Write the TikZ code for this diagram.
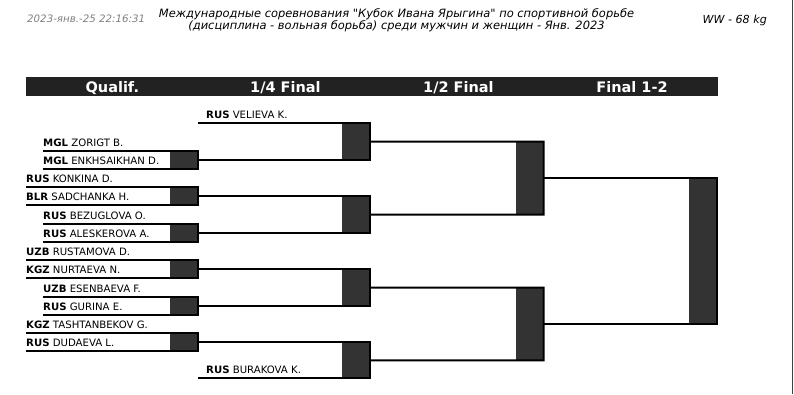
\documentclass[tikz,border=0pt]{standalone}
\usepackage{fontspec}
\setmainfont{DejaVu Sans}
\newfontfamily\ttlfont{DejaVu Sans}[Ligatures=TeXOff]
\usetikzlibrary{fit}
\definecolor{boxgray}{HTML}{333333}
\definecolor{barblack}{HTML}{222222}
\definecolor{dategray}{HTML}{808080}
\definecolor{edgegray}{HTML}{404040}
\begin{document}
\begin{tikzpicture}[x=1pt,y=-1pt,
  ln/.style={line width=2pt, line join=miter},
  mbox/.style={rectangle, fill=boxgray, draw=none, inner sep=0pt, outer sep=0pt},
  nm/.style={anchor=base west, inner sep=0pt, font=\fontsize{10.15}{12}\selectfont},
  hd/.style={anchor=base, inner sep=0pt, text=white, font=\fontsize{14.5}{17}\selectfont\bfseries},
  ttl/.style={anchor=base, inner sep=0pt, font=\ttlfont\fontsize{11.45}{13}\selectfont\itshape}]
\useasboundingbox (0,0) rectangle (794,394);
% page edge
\draw[edgegray, line width=1pt] (792.5,0) -- (792.5,394);
% header texts
\node[anchor=base west, inner sep=0pt, text=dategray, font=\fontsize{10.25}{12}\selectfont\itshape] (date) at (27,22.5) {2023-янв.-25 22:16:31};
\node[ttl] (t1) at (396.5,17.3) {Международные соревнования "Кубок Ивана Ярыгина" по спортивной борьбе};
\node[ttl] (t2) at (396.5,29.5) {(дисциплина - вольная борьба) среди мужчин и женщин - Янв. 2023};
\node[anchor=base east, inner sep=0pt, font=\fontsize{11.1}{13}\selectfont\itshape] (wc) at (767,23.5) {WW - 68 kg};
% column bar
\node[rectangle, fill=barblack, inner sep=0pt, outer sep=0pt, fit={(26,77)(718,96)}] (bar) {};
\node[hd] (h1) at (112.3,92) {Qualif.};
\node[hd] (h2) at (285.4,92) {1/4 Final};
\node[hd] (h3) at (458.4,92) {1/2 Final};
\node[hd] (h4) at (632,92) {Final 1-2};
% qualification boxes
\node[mbox, fit={(170,150.7)(198,168.95)}] (q1) {};
\node[mbox, fit={(170,187.2)(198,205.45)}] (q2) {};
\node[mbox, fit={(170,223.7)(198,241.95)}] (q3) {};
\node[mbox, fit={(170,260.2)(198,278.45)}] (q4) {};
\node[mbox, fit={(170,296.7)(198,314.95)}] (q5) {};
\node[mbox, fit={(170,333.2)(198,351.45)}] (q6) {};
% quarter final boxes
\node[mbox, fit={(342,123.3)(370,159.825)}] (f1) {};
\node[mbox, fit={(342,196.325)(370,232.825)}] (f2) {};
\node[mbox, fit={(342,269.325)(370,305.825)}] (f3) {};
\node[mbox, fit={(342,342.325)(370,378.3)}] (f4) {};
% semi final boxes
\node[mbox, fit={(515.5,141.5625)(543.5,214.575)}] (s1) {};
\node[mbox, fit={(515.5,287.575)(543.5,360.3125)}] (s2) {};
% final box
\node[mbox, fit={(689,178.06875)(717,323.94375)}] (fin) {};
% line starts
\coordinate (a1) at (43,150.7);
\coordinate (a2) at (43,168.95);
\coordinate (a3) at (26,187.2);
\coordinate (a4) at (26,205.45);
\coordinate (a5) at (43,223.7);
\coordinate (a6) at (43,241.95);
\coordinate (a7) at (26,260.2);
\coordinate (a8) at (26,278.45);
\coordinate (a9) at (43,296.7);
\coordinate (a10) at (43,314.95);
\coordinate (a11) at (26,333.2);
\coordinate (a12) at (26,351.45);
\coordinate (v0) at (198,123.3);
\coordinate (b0) at (198,378.3);
% names
\node[nm] (n0) at (206,118.8) {\textbf{RUS} VELIEVA K.};
\node[nm] (n1) at (43,146.2) {\textbf{MGL} ZORIGT B.};
\node[nm] (n2) at (43,164.45) {\textbf{MGL} ENKHSAIKHAN D.};
\node[nm] (n3) at (26,182.7) {\textbf{RUS} KONKINA D.};
\node[nm] (n4) at (26,200.95) {\textbf{BLR} SADCHANKA H.};
\node[nm] (n5) at (43,219.2) {\textbf{RUS} BEZUGLOVA O.};
\node[nm] (n6) at (43,237.45) {\textbf{RUS} ALESKEROVA A.};
\node[nm] (n7) at (26,255.7) {\textbf{UZB} RUSTAMOVA D.};
\node[nm] (n8) at (26,273.95) {\textbf{KGZ} NURTAEVA N.};
\node[nm] (n9) at (43,292.2) {\textbf{UZB} ESENBAEVA F.};
\node[nm] (n10) at (43,310.45) {\textbf{RUS} GURINA E.};
\node[nm] (n11) at (26,328.7) {\textbf{KGZ} TASHTANBEKOV G.};
\node[nm] (n12) at (26,346.95) {\textbf{RUS} DUDAEVA L.};
\node[nm] (n13) at (206,373.8) {\textbf{RUS} BURAKOVA K.};
% qualification brackets
\draw[ln] (a1) -- (q1.north east) -- (q1.south east) -- (a2);
\draw[ln] (a3) -- (q2.north east) -- (q2.south east) -- (a4);
\draw[ln] (a5) -- (q3.north east) -- (q3.south east) -- (a6);
\draw[ln] (a7) -- (q4.north east) -- (q4.south east) -- (a8);
\draw[ln] (a9) -- (q5.north east) -- (q5.south east) -- (a10);
\draw[ln] (a11) -- (q6.north east) -- (q6.south east) -- (a12);
% quarter final brackets
\draw[ln] (v0) -- (f1.north east) -- (f1.south east) -- (q1.east);
\draw[ln] (q2.east) -- (f2.north east) -- (f2.south east) -- (q3.east);
\draw[ln] (q4.east) -- (f3.north east) -- (f3.south east) -- (q5.east);
\draw[ln] (q6.east) -- (f4.north east) -- (f4.south east) -- (b0);
% semi final brackets
\draw[ln] (f1.east) -- (s1.north east) -- (s1.south east) -- (f2.east);
\draw[ln] (f3.east) -- (s2.north east) -- (s2.south east) -- (f4.east);
% final bracket
\draw[ln] (s1.east) -- (fin.north east) -- (fin.south east) -- (s2.east);
\end{tikzpicture}
\end{document}
